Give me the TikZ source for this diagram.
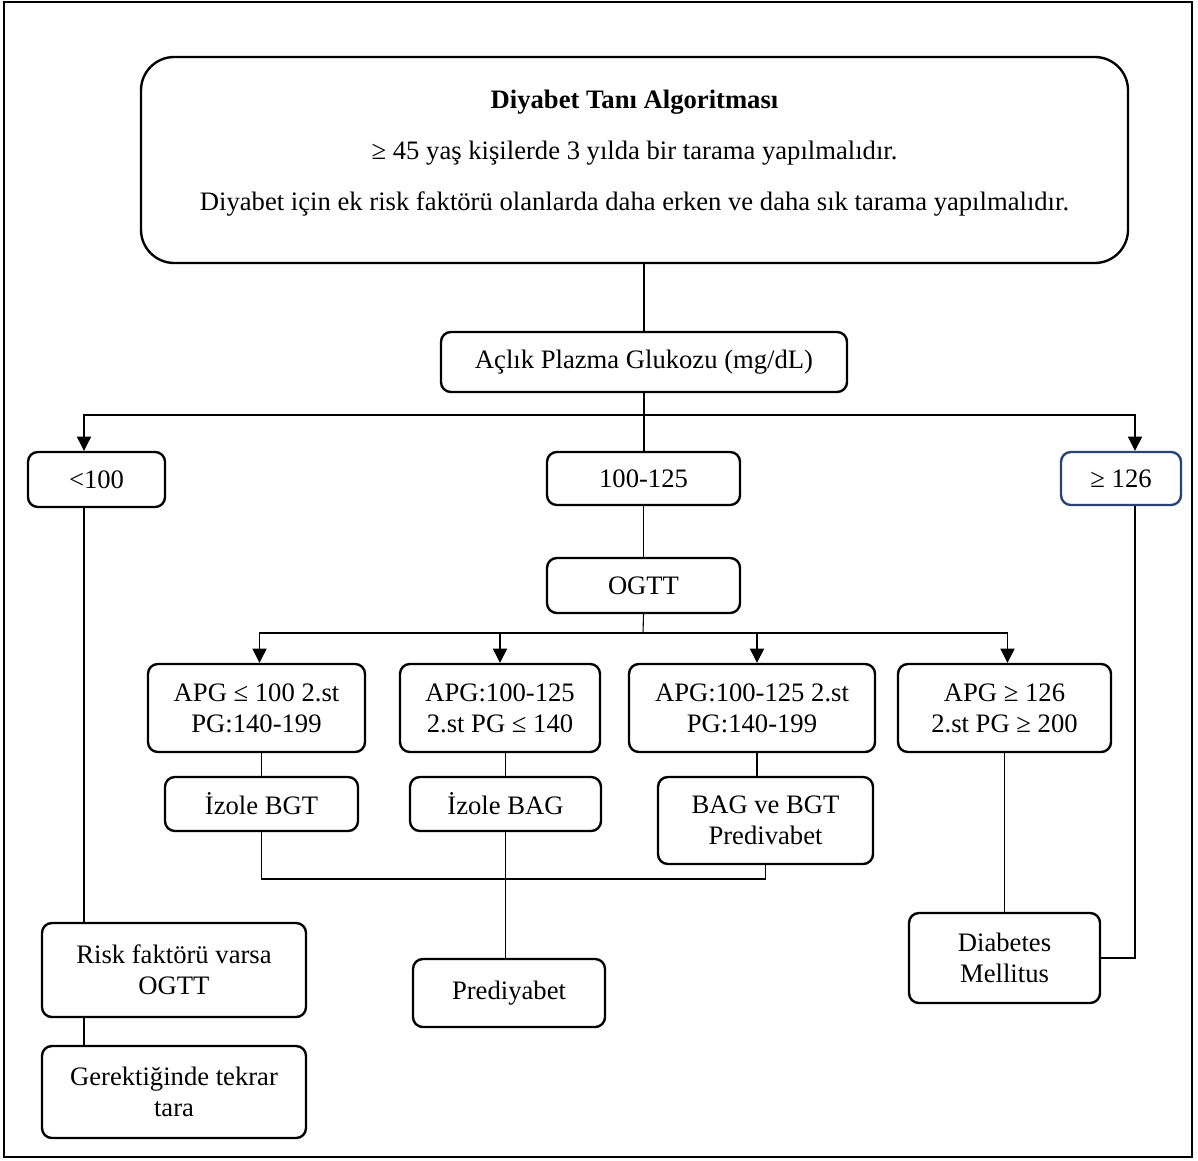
\documentclass[tikz,border=0pt]{standalone}
\usepackage{fontspec}
\setmainfont{Liberation Serif}
\usepackage{xcolor}
\usetikzlibrary{arrows.meta, positioning, calc}
\definecolor{navyedge}{RGB}{40,68,118}
\newcommand{\pxu}{0.1623mm}

\begin{document}
\begin{tikzpicture}[x=\pxu, y=-\pxu,
    box/.style={rectangle, rounded corners=1.6mm, draw, line width=1.1pt, align=center,
                inner sep=0pt, font=\fontsize{12.3}{14.2}\selectfont},
    link/.style={line width=0.5pt},
    arr/.style={link, -{Triangle[length=2.3mm, width=2.3mm]}}
]
\useasboundingbox (0,0) rectangle (1198,1160);
\draw[line width=1.2pt] (4,2) rectangle (1192,1157);
\node[box, rounded corners=5.4mm, minimum width=987*\pxu, minimum height=206*\pxu] (top) at (634.5,160) {};
\node[font=\fontsize{12.3}{23.5}\selectfont, align=center] (toptxt) at (634.5,153)
    {\textbf{Diyabet Tanı Algoritması}\\ ≥ 45 yaş kişilerde 3 yılda bir tarama yapılmalıdır.\\
     Diyabet için ek risk faktörü olanlarda daha erken ve daha sık tarama yapılmalıdır.};
\node[box, minimum width=406*\pxu, minimum height=60*\pxu] (apg) at (644,362) {Açlık Plazma Glukozu (mg/dL)};
\node[box, minimum width=137*\pxu, minimum height=55*\pxu] (low) at (96.5,479.5) {<100};
\node[box, minimum width=193*\pxu, minimum height=53*\pxu] (mid) at (643.5,478.5) {100-125};
\node[box, draw=navyedge, minimum width=120*\pxu, minimum height=53*\pxu] (high) at (1121,478.5) {≥ 126};
\node[box, minimum width=193*\pxu, minimum height=55*\pxu] (ogtt) at (643.5,585.5) {OGTT};
\node[box, minimum width=217*\pxu, minimum height=88*\pxu] (c1) at (256.5,708) {APG ≤ 100 2.st\\PG:140-199};
\node[box, minimum width=200*\pxu, minimum height=88*\pxu] (c2) at (500,708) {APG:100-125\\2.st PG ≤ 140};
\node[box, minimum width=246*\pxu, minimum height=88*\pxu] (c3) at (752,708) {APG:100-125 2.st\\PG:140-199};
\node[box, minimum width=213*\pxu, minimum height=88*\pxu] (c4) at (1004.5,708) {APG ≥ 126\\2.st PG ≥ 200};
\node[box, minimum width=193*\pxu, minimum height=54*\pxu] (bgt) at (261.5,804) {İzole BGT};
\node[box, minimum width=191*\pxu, minimum height=54*\pxu] (bag) at (505.5,804) {İzole BAG};
\node[box, minimum width=215*\pxu, minimum height=87*\pxu] (both) at (765.5,820.5) {BAG ve BGT\\Predivabet};
\node[box, minimum width=192*\pxu, minimum height=68*\pxu] (pre) at (509,993) {Prediyabet};
\node[box, minimum width=191*\pxu, minimum height=90*\pxu] (dm) at (1004.5,958) {Diabetes\\Mellitus};
\node[box, minimum width=264*\pxu, minimum height=94*\pxu] (risk) at (174,970) {Risk faktörü varsa\\OGTT};
\node[box, minimum width=264*\pxu, minimum height=92*\pxu] (again) at (174,1092) {Gerektiğinde tekrar\\tara};
\coordinate (fork) at (643,415);
\coordinate (fork2) at (643,633);
\coordinate (join) at (503,879);
\coordinate (lowout) at ([xshift=-12.5*\pxu]low.south);
\coordinate (highout) at ([xshift=14*\pxu]high.south);
\draw[link] (apg.north |- top.south) -- (apg.north);
\draw[link] (apg.south) -- (apg.south |- mid.north);
\draw[arr] (fork) -| ([xshift=-12.5*\pxu]low.north);
\draw[arr] (fork) -| ([xshift=14*\pxu]high.north);
\draw[link] (mid.south) -- (ogtt.north);
\draw[link] (ogtt.south) -- (fork2);
\draw[arr] (fork2) -| ([xshift=3*\pxu]c1.north);
\draw[arr] (fork2) -| (c2.north);
\draw[arr] (fork2) -| ([xshift=5*\pxu]c3.north);
\draw[arr] (fork2) -| ([xshift=3*\pxu]c4.north);
\draw[link] (bgt.north |- c1.south) -- (bgt.north);
\draw[link] (bag.north |- c2.south) -- (bag.north);
\draw[link] ([xshift=5*\pxu]c3.south) -- ([xshift=5*\pxu]c3.south |- both.north);
\draw[link] (dm.north |- c4.south) -- (dm.north);
\draw[link] (bgt.south) |- (join) -| (both.south);
\draw[link] (bag.south) -- (bag.south |- pre.north);
\draw[link] (highout) |- (dm.east);
\draw[link] (lowout) -- (lowout |- risk.north);
\draw[link] (lowout |- risk.south) -- (lowout |- again.north);
\end{tikzpicture}
\end{document}
